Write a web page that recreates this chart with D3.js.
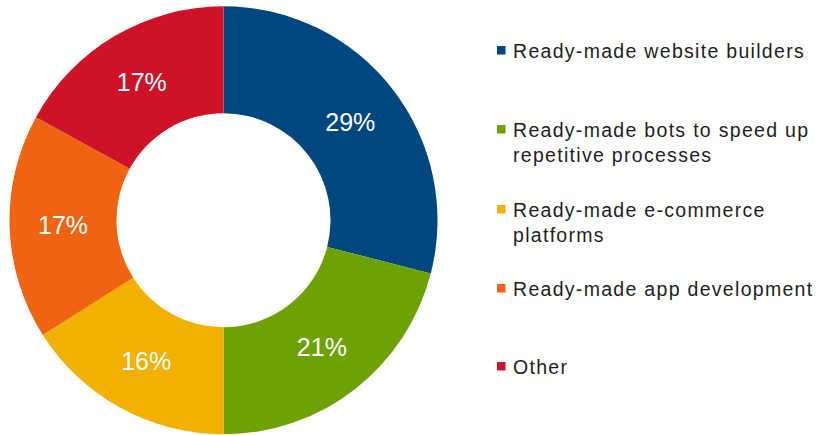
<!DOCTYPE html>
<html>
<head>
<meta charset="utf-8">
<script src="https://cdn.jsdelivr.net/npm/d3@7"></script>
<style>
  html, body { margin: 0; padding: 0; background: #fff; }
  svg { display: block; }
  text { font-family: "Liberation Sans", Arial, sans-serif; }
</style>
</head>
<body>
<svg id="chart" width="821" height="435"></svg>
<script>
// Share of low-code / no-code tools in use
const categories = [
  "Ready-made website builders",
  "Ready-made bots to speed up repetitive processes",
  "Ready-made e-commerce platforms",
  "Ready-made app development",
  "Other"
];
const values = [29, 21, 16, 17, 17];
const colors = ["#00467F", "#6EA204", "#F2B000", "#EE6412", "#CE1228"];
// Legend text, already wrapped into lines
const legendLines = [
  ["Ready-made website builders"],
  ["Ready-made bots to speed up", "repetitive processes"],
  ["Ready-made e-commerce", "platforms"],
  ["Ready-made app development"],
  ["Other"]
];

const svg = d3.select("#chart");
const cx = 223.5, cy = 220.3, outerR = 214, innerR = 107;

const pie = d3.pie().sort(null).value(d => d.value);
const arcs = pie(categories.map((c, i) => ({ name: c, value: values[i], color: colors[i] })));
const arc = d3.arc().innerRadius(innerR).outerRadius(outerR);

const g = svg.append("g").attr("transform", `translate(${cx},${cy})`);
g.selectAll("path.slice")
  .data(arcs)
  .join("path")
  .attr("class", "slice")
  .attr("d", arc)
  .attr("fill", d => d.data.color);

g.selectAll("text.pct")
  .data(arcs)
  .join("text")
  .attr("class", "pct")
  .attr("transform", d => `translate(${arc.centroid(d)})`)
  .attr("text-anchor", "middle")
  .attr("dy", "0.36em")
  .attr("fill", "#fff")
  .style("font-size", "25px")
  .text(d => d.data.value + "%");

// Legend
const legendX = 497;
const firstBaselines = [58, 137, 217, 296, 374];
const lineH = 24.5;
const leg = svg.append("g");
legendLines.forEach((lines, i) => {
  const b = firstBaselines[i];
  leg.append("rect")
    .attr("x", legendX)
    .attr("y", b - 12)
    .attr("width", 8.5)
    .attr("height", 8.5)
    .attr("fill", colors[i]);
  const t = leg.append("text")
    .attr("x", legendX + 16)
    .attr("y", b)
    .attr("fill", "#1e1e1e")
    .style("font-size", "19.5px")
    .style("letter-spacing", "1.3px");
  lines.forEach((ln, j) => {
    t.append("tspan")
      .attr("x", legendX + 16)
      .attr("dy", j === 0 ? 0 : lineH)
      .text(ln);
  });
});
</script>
</body>
</html>
